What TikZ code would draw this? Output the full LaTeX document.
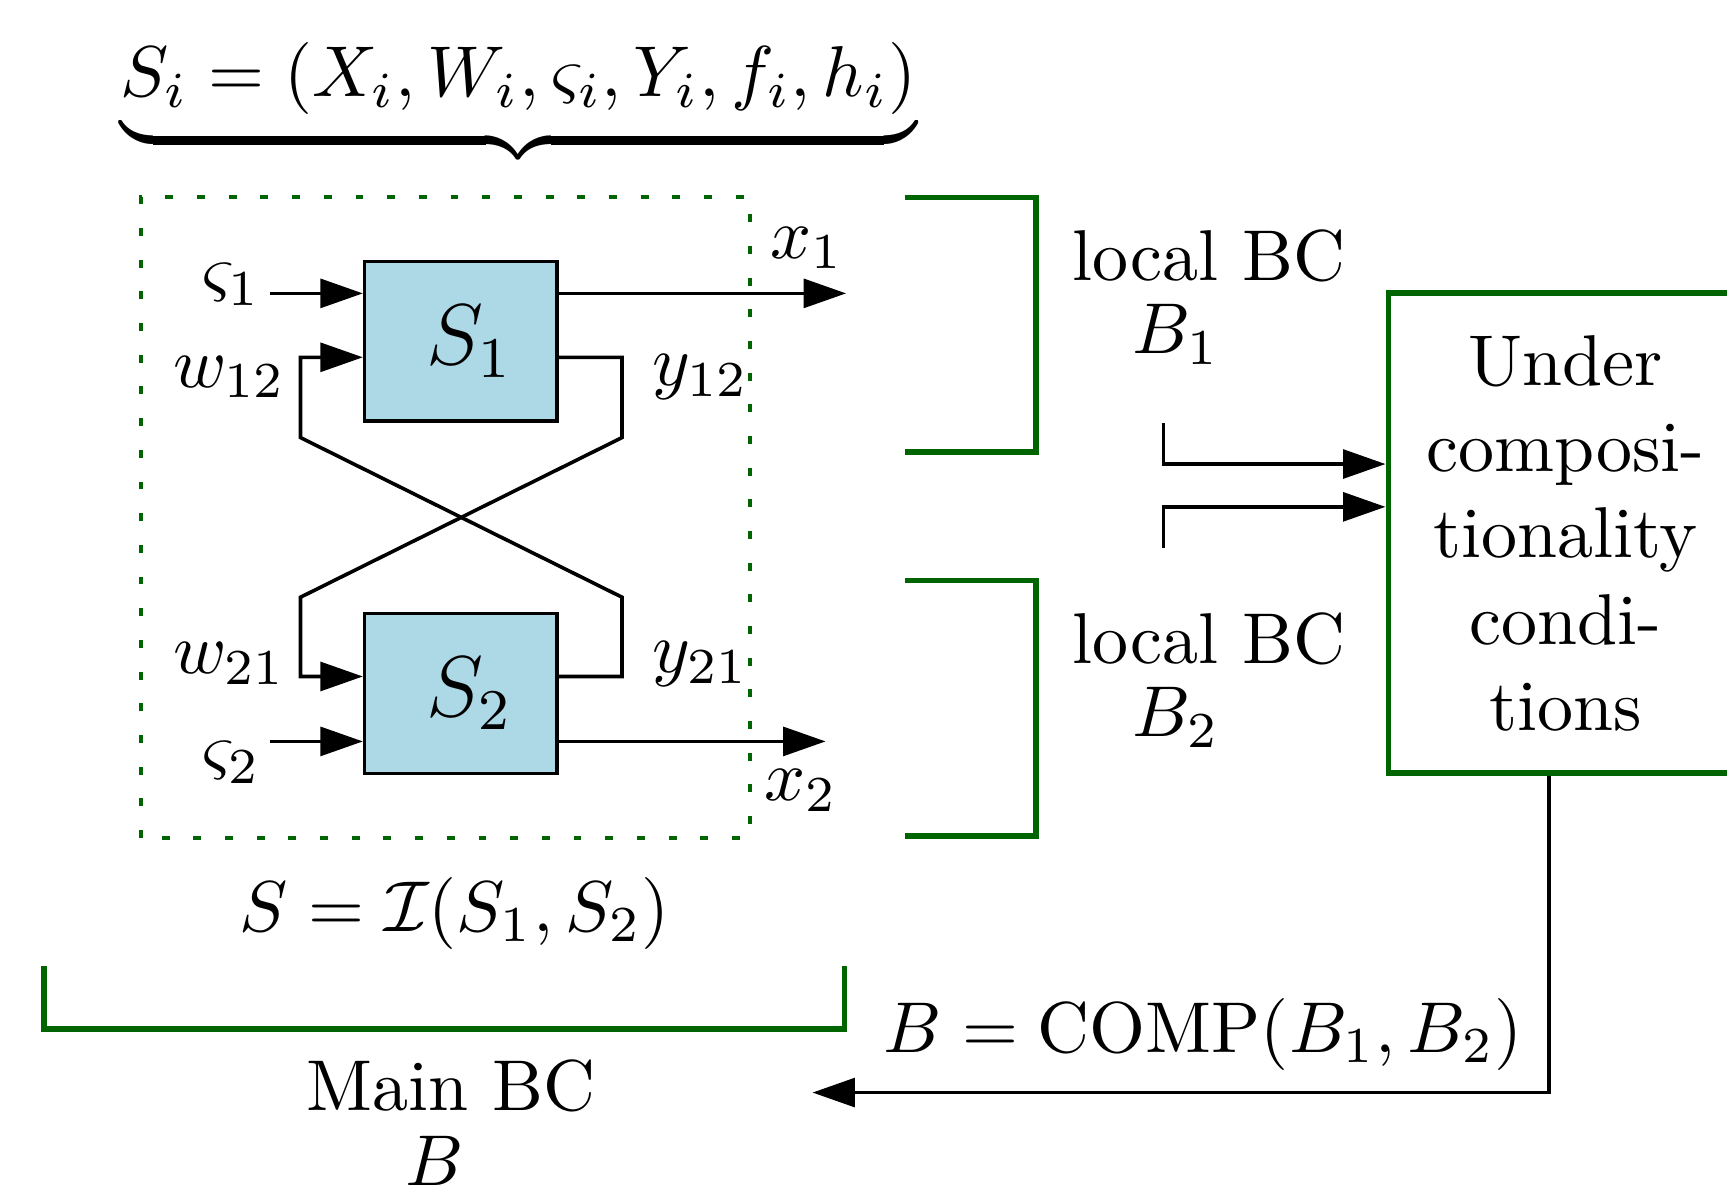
\documentclass[tikz,border=0pt]{standalone}
\usepackage{amsmath}
\usetikzlibrary{arrows.meta}
\definecolor{bcgreen}{RGB}{0,100,0}
\definecolor{sysblue}{RGB}{173,216,230}

\begin{document}
\begin{tikzpicture}[
		sysbox/.style={draw, rectangle, fill=sysblue, line width=0.5pt, minimum width=0.94cm, minimum height=0.78cm, font=\large},
		wire/.style={line width=0.5pt},
		arr/.style={wire, -{Triangle[length=5.9pt,width=4pt]}},
		bcline/.style={bcgreen, line width=0.8pt}
	]
	\useasboundingbox (0,0) rectangle (8.43,5.79);

	% Subsystem tuple
	\node (tuple) at (2.53,5.28) {\fontsize{10.3pt}{12.5pt}\selectfont $\underbrace{S_i = (X_i, W_i, \varsigma_i, Y_i, f_i, h_i)}$};

	% Interconnected system
	\draw[bcgreen, dash pattern=on 1.1pt off 3.3pt, line width=0.55pt] (0.69,1.70) rectangle (3.66,4.83);
	\node[sysbox] (s1) at (2.25,4.124) {\hspace{2.4pt}$S_1$};
	\node[sysbox] (s2) at (2.25,2.405) {\hspace{2.4pt}$S_2$};

	% Ports
	\coordinate (p12) at (0,4.046);
	\coordinate (p21) at (0,2.488);
	\coordinate (vs1in) at (1.32,4.358);
	\coordinate (vs2in) at (1.32,2.171);
	\coordinate (x1out) at (4.13,4.358);
	\coordinate (x2out) at (4.03,2.171);

	% External inputs and outputs
	\draw[arr] (vs1in) -- (vs1in -| s1.west);
	\draw[arr] (vs2in) -- (vs2in -| s2.west);
	\draw[arr] (x1out -| s1.east) -- (x1out);
	\draw[arr] (x2out -| s2.east) -- (x2out);
	\node (vs1) at (1.13,4.40) {$\varsigma_1$};
	\node (vs2) at (1.13,2.07) {$\varsigma_2$};
	\node (x1) at (3.94,4.58) {$x_1$};
	\node (x2) at (3.91,1.93) {$x_2$};

	% Coupling
	\draw[arr] (s1.east |- p12) -| (3.036,3.654) -- (1.467,2.875) |- (s2.west |- p21);
	\draw[arr] (s2.east |- p21) -| (3.036,2.875) -- (1.467,3.654) |- (s1.west |- p12);
	\node (w12) at (1.12,3.95) {$w_{12}$};
	\node (y12) at (3.42,3.95) {$y_{12}$};
	\node (w21) at (1.12,2.55) {$w_{21}$};
	\node (y21) at (3.42,2.55) {$y_{21}$};

	\node (sys) at (2.22,1.333) {$S = \mathcal{I}(S_1, S_2)$};

	% Main BC
	\draw[bcline] (0.215,1.075) |- (4.122,0.768) -- (4.122,1.075);
	\node[align=center] (mainbc) at (2.2,0.31) {Main BC\\[-1.5pt]\hspace*{-4.6pt}$B$};

	% Local BCs
	\draw[bcline] (4.417,4.826) -| (5.057,3.584) -- (4.417,3.584);
	\draw[bcline] (4.417,2.956) -| (5.057,1.709) -- (4.417,1.709);
	\node[align=center] (lbc1) at (5.90,4.34) {local BC\\[-1.8pt]\hspace*{-9pt}$B_1$};
	\node[align=center] (lbc2) at (5.90,2.47) {local BC\\[-1.8pt]\hspace*{-9pt}$B_2$};

	% Compositionality conditions
	\node[draw=bcgreen, line width=0.8pt, minimum width=1.73cm, minimum height=2.343cm, align=center] (comp) at (7.642,3.187) {Under\\composi-\\tionality\\condi-\\tions};

	\coordinate (b1in) at (5.68,3.724);
	\coordinate (b1turn) at (5.68,3.525);
	\coordinate (b2in) at (5.68,3.117);
	\coordinate (b2turn) at (5.68,3.316);
	\draw[arr] (b1in) -- (b1turn) -- (b1turn -| comp.west);
	\draw[arr] (b2in) -- (b2turn) -- (b2turn -| comp.west);

	% Composed BC
	\coordinate (bout) at (3.966,0.457);
	\draw[arr] ([xshift=-0.08cm]comp.south) |- (bout);
	\node (compb) at (5.874,0.742) {$B = \mathrm{COMP}(B_1, B_2)$};
\end{tikzpicture}
\end{document}
